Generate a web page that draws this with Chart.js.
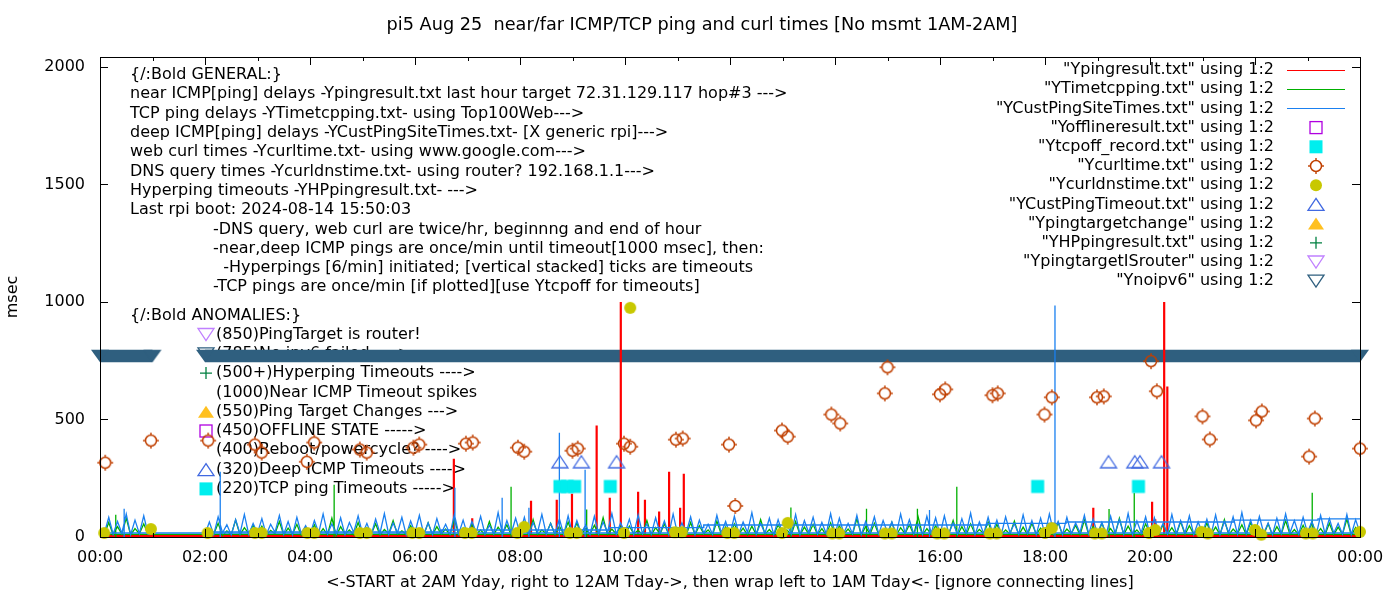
<!DOCTYPE html>
<html>
<head>
<meta charset="utf-8">
<title>pi5 Aug 25 near/far ICMP/TCP ping and curl times</title>
<script src="https://cdn.jsdelivr.net/npm/chart.js@4.4.1/dist/chart.umd.min.js"></script>
<style>
  html, body { margin: 0; padding: 0; background: #fff; }
  #wrap { width: 1400px; height: 600px; }
</style>
</head>
<body>
<div id="wrap"><canvas id="myChart" width="1400" height="600"></canvas></div>
<script>
/* -------------------------------------------------------------------------- */
/*                                    DATA                                    */
/* -------------------------------------------------------------------------- */

const chartTitle = 'pi5 Aug 25  near/far ICMP/TCP ping and curl times [No msmt 1AM-2AM]'
const xTitle = '<-START at 2AM Yday, right to 12AM Tday->, then wrap left to 1AM Tday<- [ignore connecting lines]'
const yTitle = 'msec'

const xTickHours = [0, 2, 4, 6, 8, 10, 12, 14, 16, 18, 20, 22, 24]
const xTickLabels = ['00:00', '02:00', '04:00', '06:00', '08:00', '10:00', '12:00', '14:00', '16:00', '18:00', '20:00', '22:00', '00:00']
const xMinorHours = [1, 3, 5, 7, 9, 11, 13, 15, 17, 19, 21, 23]
const yTickValues = [0, 500, 1000, 1500, 2000]

// 5 minute samples in file order: 02:00 ... 24:00, then wrap to 00:05 ... 01:00
const sampleStartHour = 2
const sampleStepMin = 5

const pingresult = [
  5,4,6,5,3,5,6,4,5,5,4,6,   // 02
  4,5,6,5,4,3,5,6,4,5,5,4,   // 03
  5,6,4,5,5,4,6,5,3,5,4,5,   // 04
  4,5,5,6,4,5,3,5,6,4,5,5,   // 05
  5,4,6,5,4,5,5,6,4,5,4,5,   // 06
  6,5,4,5,6,4,5,5,4,6,5,4,   // 07
  5,4,5,6,5,4,6,5,4,5,5,6,   // 08
  4,6,5,5,4,6,5,4,6,5,5,4,   // 09
  5,5,4,6,5,4,5,6,5,4,5,5,   // 10
  6,4,5,5,4,6,5,5,4,5,6,4,   // 11
  5,5,6,4,5,5,4,6,5,4,5,5,   // 12
  4,6,5,5,4,5,6,4,5,5,4,6,   // 13
  5,4,5,6,5,4,5,5,6,4,5,5,   // 14
  6,5,4,5,5,6,4,5,5,4,6,5,   // 15
  4,5,6,5,4,5,5,6,4,5,5,4,   // 16
  5,6,4,5,5,4,6,5,5,4,5,6,   // 17
  5,4,5,6,4,5,5,4,6,5,4,5,   // 18
  6,5,5,4,6,5,4,5,5,6,4,5,   // 19
  5,4,6,5,5,4,5,6,4,5,5,4,   // 20
  4,5,5,6,4,5,6,5,4,5,6,5,   // 21
  5,6,4,5,5,4,5,6,5,4,5,5,   // 22
  6,4,5,5,6,5,4,5,5,6,4,5,   // 23
  5,                         // 24:00
  5,5,6,5,4,5,6,5,4,5,5,4    // 00:05 .. 01:00
]

const timetcpping = [
  8,34,12,58,6,26,10,72,9,40,14,50,
  10,46,8,28,14,66,9,38,12,54,7,30,
  12,52,8,36,10,80,6,44,12,30,9,62,
  9,40,12,56,8,32,14,70,10,26,12,48,
  14,28,8,60,10,44,12,34,9,76,10,38,
  8,54,12,30,9,66,10,42,14,52,8,36,
  12,38,9,74,10,30,14,58,8,46,12,64,
  10,60,8,36,12,50,9,82,10,34,12,44,
  9,46,14,28,10,70,8,40,12,56,10,32,
  12,34,9,62,10,48,14,30,8,68,12,42,
  10,56,12,38,8,46,10,74,12,32,9,52,
  14,30,10,66,9,42,12,54,10,36,8,60,
  8,48,12,34,10,78,9,44,12,58,10,30,
  12,62,8,40,14,52,10,86,9,36,12,48,
  10,36,12,70,8,44,10,56,12,32,14,64,
  9,54,10,30,12,68,8,42,10,58,12,38,
  12,40,9,62,10,34,14,50,8,72,10,44,
  10,58,12,36,9,80,10,46,12,30,8,56,
  14,32,10,54,12,40,9,66,10,48,12,36,
  8,60,12,42,10,74,9,34,14,52,10,62,
  12,38,10,56,8,44,12,70,10,32,9,50,
  10,64,12,36,9,58,10,42,12,76,8,40,
  11,
  11,62,10,44,12,80,9,36,14,56,10,12
]

const custPingSiteTimes = [
  12,64,10,86,18,52,9,74,14,96,11,58,
  16,78,10,54,20,92,12,66,9,84,15,48,
  10,70,18,98,12,56,14,82,10,62,20,90,
  14,58,10,76,16,100,11,60,18,84,9,68,
  18,92,12,60,10,78,16,54,12,96,14,72,
  10,66,20,88,12,50,14,104,10,70,16,80,
  15,84,10,62,18,96,12,58,14,78,10,90,
  12,70,16,52,10,88,14,64,20,100,12,60,
  18,76,10,94,14,56,12,82,16,68,10,98,
  14,60,18,86,10,72,16,54,12,92,18,66,
  10,88,14,64,20,104,12,58,16,80,10,74,
  16,56,12,96,10,70,18,84,12,62,14,100,
  12,80,16,58,14,92,10,66,20,86,12,70,
  18,64,10,98,16,74,12,56,10,88,16,82,
  10,90,14,60,12,78,18,102,10,64,14,84,
  16,72,10,86,18,56,12,94,16,70,10,80,
  12,98,16,66,10,84,14,60,18,92,12,76,
  14,62,10,88,16,74,12,100,10,68,18,86,
  10,82,18,58,12,96,14,70,16,90,10,64,
  16,76,12,94,10,66,18,86,12,104,14,72,
  12,88,16,60,10,80,14,98,18,70,12,84,
  18,66,10,92,14,78,16,58,12,96,10,74,
  17,
  17,84,12,66,16,98,10,72,14,90,12,17
]

// single-minute spikes [hour, msec]
const pingresultSpikes = [[6.74, 333], [7.09, 80], [8.21, 154], [8.70, 158], [8.99, 184], [9.46, 474],
  [9.71, 167], [9.92, 1000], [10.25, 192], [10.38, 158], [10.65, 108], [10.84, 278], [11.05, 124],
  [11.12, 269], [18.92, 124], [20.04, 150], [20.10, 76], [20.27, 1000], [20.33, 640]]
const timetcppingSpikes = [[0.30, 95], [4.46, 222], [7.83, 214], [9.27, 117], [13.16, 125], [14.60, 120],
  [15.57, 120], [16.32, 214], [19.22, 119], [19.70, 188], [23.09, 188]]
const custPingSpikes = [[0.46, 120], [2.29, 278], [6.76, 209], [7.66, 167], [8.17, 124], [8.75, 444],
  [9.24, 286], [15.80, 115], [18.19, 985]]

// deep ping level steps [start hour, msec]
const custPingSteps = [[2, 22], [6.5, 30], [9.7, 40], [11.5, 51], [16.9, 58], [18.4, 64], [21.6, 72], [23.2, 77], [24, 77]]

const curlTimes = [[0.1, 316], [0.97, 410], [2.06, 410], [2.95, 393], [3.08, 359], [3.94, 320], [4.08, 402],
  [4.95, 372], [5.08, 359], [5.97, 380], [6.08, 393], [6.97, 397], [7.1, 402], [7.96, 380], [8.08, 363],
  [9.0, 367], [9.1, 376], [9.98, 397], [10.1, 384], [10.97, 414], [11.1, 419], [11.98, 393], [12.1, 132],
  [12.99, 453], [13.1, 427], [13.93, 521], [14.1, 483], [14.95, 611], [15.0, 722], [16.0, 607], [16.1, 628],
  [17.0, 603], [17.1, 611], [17.99, 521], [18.13, 594], [18.99, 594], [19.12, 598], [20.02, 748], [20.13, 620],
  [21.0, 513], [21.14, 415], [22.02, 496], [22.13, 534], [23.03, 342], [23.14, 504], [24.0, 376]]

const curlDnsTimes = [[0.08, 17], [0.97, 34], [2.05, 17], [2.95, 17], [3.08, 17], [3.95, 17], [4.08, 17],
  [4.95, 17], [5.08, 17], [5.95, 17], [6.08, 17], [6.95, 17], [7.08, 17], [7.95, 17], [8.08, 43], [8.95, 17],
  [9.08, 17], [9.98, 17], [10.1, 975], [10.95, 20], [11.08, 20], [11.95, 17], [12.08, 17], [12.99, 17],
  [13.1, 60], [13.95, 15], [14.08, 15], [14.95, 15], [15.08, 15], [15.95, 15], [16.08, 15], [16.95, 15],
  [17.08, 15], [18.0, 17], [18.13, 38], [18.95, 15], [19.08, 15], [19.98, 17], [20.1, 30], [20.98, 22],
  [21.1, 15], [22.0, 30], [22.12, 10], [22.97, 15], [23.1, 15], [24.0, 22]]

const tcpoffRecord = [[8.76, 215], [8.9, 215], [9.04, 215], [9.72, 215], [17.86, 215], [19.78, 215]]
const custPingTimeout = [[8.76, 320], [9.17, 320], [9.84, 320], [19.21, 320], [19.71, 320], [19.81, 320], [20.22, 320]]
const offlineResult = []
const pingTargetChange = []
const hpPingResult = []
const pingTargetIsRouter = []
const noipv6Spans = [[0, 1], [2, 24]]
const noipv6Level = 770

const generalLines = [
  '{/:Bold GENERAL:}',
  'near ICMP[ping] delays -Ypingresult.txt last hour target 72.31.129.117 hop#3 --->',
  'TCP ping delays -YTimetcpping.txt- using Top100Web--->',
  'deep ICMP[ping] delays -YCustPingSiteTimes.txt- [X generic rpi]--->',
  'web curl times -Ycurltime.txt- using www.google.com--->',
  'DNS query times -Ycurldnstime.txt- using router? 192.168.1.1--->',
  'Hyperping timeouts -YHPpingresult.txt- --->',
  'Last rpi boot: 2024-08-14 15:50:03'
]
const noteLines = [
  '-DNS query, web curl are twice/hr, beginnng and end of hour',
  '-near,deep ICMP pings are once/min until timeout[1000 msec], then:',
  '  -Hyperpings [6/min] initiated; [vertical stacked] ticks are timeouts',
  '-TCP pings are once/min [if plotted][use Ytcpoff for timeouts]'
]
const anomalyLines = [
  ['(850)PingTarget is router!', 'openTriDown', '#c080ff'],
  ['(785)No ipv6 failed ---->', 'openTriDown', '#2f5f7f'],
  ['(500+)Hyperping Timeouts ---->', 'plus', '#008040'],
  ['(1000)Near ICMP Timeout spikes', null, null],
  ['(550)Ping Target Changes --->', 'filledTriUp', '#ffc020'],
  ['(450)OFFLINE STATE ----->', 'openSquare', '#b000e0'],
  ['(400)Reboot/powercycle? ---->', null, null],
  ['(320)Deep ICMP Timeouts ---->', 'openTriUp', '#4169e1'],
  ['(220)TCP ping Timeouts ----->', 'filledSquare', '#00eeee']
]

/* -------------------------------------------------------------------------- */
/*                                  SYMBOLS                                   */
/* -------------------------------------------------------------------------- */

const FONT = '16px "DejaVu Sans"'
const TITLE_FONT = '17.7px "DejaVu Sans"'

function drawSymbol(ctx, kind, cx, cy, color) {
  ctx.save()
  ctx.strokeStyle = color
  ctx.fillStyle = color
  ctx.lineWidth = 1.3
  ctx.beginPath()
  if (kind == 'openSquare') {
    ctx.strokeRect(cx - 6, cy - 6, 12, 12)
  } else if (kind == 'filledSquare') {
    ctx.fillRect(cx - 6.5, cy - 6.5, 13, 13)
  } else if (kind == 'openCircle') {
    ctx.lineWidth = 1.5
    ctx.arc(cx, cy, 5.5, 0, Math.PI * 2)
    ctx.stroke()
    ctx.fillRect(cx - 0.7, cy - 8, 1.4, 2)
    ctx.fillRect(cx - 0.7, cy + 6, 1.4, 2)
    ctx.fillRect(cx - 8, cy - 0.7, 2, 1.4)
    ctx.fillRect(cx + 6, cy - 0.7, 2, 1.4)
  } else if (kind == 'filledCircle') {
    ctx.arc(cx, cy, 6, 0, Math.PI * 2)
    ctx.fill()
  } else if (kind == 'openTriUp' || kind == 'filledTriUp') {
    ctx.moveTo(cx, cy - 6)
    ctx.lineTo(cx + 8, cy + 6)
    ctx.lineTo(cx - 8, cy + 6)
    ctx.closePath()
    kind == 'openTriUp' ? ctx.stroke() : ctx.fill()
  } else if (kind == 'openTriDown') {
    ctx.moveTo(cx - 8, cy - 6)
    ctx.lineTo(cx + 8, cy - 6)
    ctx.lineTo(cx, cy + 6)
    ctx.closePath()
    ctx.stroke()
  } else if (kind == 'bandEnd') {
    ctx.moveTo(cx - 9, cy - 6.25)
    ctx.lineTo(cx + 9, cy - 6.25)
    ctx.lineTo(cx, cy + 6.25)
    ctx.closePath()
    ctx.fill()
  } else if (kind == 'plus') {
    ctx.moveTo(cx - 6, cy); ctx.lineTo(cx + 6, cy)
    ctx.moveTo(cx, cy - 6); ctx.lineTo(cx, cy + 6)
    ctx.stroke()
  }
  ctx.restore()
}

function symbolCanvas(kind, color) {
  let c = document.createElement('canvas')
  c.width = 20
  c.height = 20
  drawSymbol(c.getContext('2d'), kind, 10, 10, color)
  return c
}

const legendRows = [
  ['"Ypingresult.txt" using 1:2', 'line', '#ff0000'],
  ['"YTimetcpping.txt" using 1:2', 'line', '#00b000'],
  ['"YCustPingSiteTimes.txt" using 1:2', 'line', '#1a80f0'],
  ['"Yofflineresult.txt" using 1:2', 'openSquare', '#b000e0'],
  ['"Ytcpoff_record.txt" using 1:2', 'filledSquare', '#00eeee'],
  ['"Ycurltime.txt" using 1:2', 'openCircle', '#c04000'],
  ['"Ycurldnstime.txt" using 1:2', 'filledCircle', '#c8c800'],
  ['"YCustPingTimeout.txt" using 1:2', 'openTriUp', '#4169e1'],
  ['"Ypingtargetchange" using 1:2', 'filledTriUp', '#ffc020'],
  ['"YHPpingresult.txt" using 1:2', 'plus', '#008040'],
  ['"YpingtargetISrouter" using 1:2', 'openTriDown', '#c080ff'],
  ['"Ynoipv6" using 1:2', 'openTriDown', '#2f5f7f']
]

/* -------------------------------------------------------------------------- */
/*                                 BUILD DATA                                 */
/* -------------------------------------------------------------------------- */

function sampleHour(i) {
  let h = sampleStartHour + i * sampleStepMin / 60
  return h > 24 ? h - 24 : h
}

function seriesPoints(values, spikes) {
  let pts = values.map((v, i) => ({ x: sampleHour(i), y: v }))
  spikes.forEach(s => {
    pts.push({ x: s[0], y: null })
    pts.push({ x: s[0], y: 0 })
    pts.push({ x: s[0], y: s[1] })
  })
  return pts
}

const pairs = list => list.map(p => ({ x: p[0], y: p[1] }))

let bandPoints = []
noipv6Spans.forEach((s, i) => {
  if (i > 0) bandPoints.push({ x: s[0], y: null })
  bandPoints.push({ x: s[0], y: noipv6Level })
  bandPoints.push({ x: s[1], y: noipv6Level })
})

function lineSet(label, data, color, order, extra) {
  return Object.assign({
    label: label, data: data, showLine: true, borderColor: color, backgroundColor: color,
    borderWidth: 1, pointRadius: 0, spanGaps: false, order: order, clip: false
  }, extra || {})
}

function pointSet(label, data, kind, color, order) {
  return {
    label: label, data: data, showLine: false, pointStyle: symbolCanvas(kind, color),
    pointRadius: 6, borderColor: color, backgroundColor: color, order: order, clip: false
  }
}

/* -------------------------------------------------------------------------- */
/*                                   PLUGIN                                   */
/* -------------------------------------------------------------------------- */

const gnuplotDecor = {
  id: 'gnuplotDecor',
  beforeDatasetsDraw(chart) {
    let ctx = chart.ctx
    ctx.save()
    ctx.font = FONT
    ctx.fillStyle = '#000'
    ctx.textBaseline = 'middle'
    ctx.textAlign = 'left'
    generalLines.forEach((t, i) => ctx.fillText(t, 130, 75 + i * 19.3))
    noteLines.forEach((t, i) => ctx.fillText(t, 213, 75 + (i + 8) * 19.3))
    ctx.fillText('{/:Bold ANOMALIES:}', 130, 316)
    anomalyLines.forEach((a, i) => {
      let y = 334.5 + i * 19.3
      ctx.fillText(a[0], 216, y)
      if (a[1]) drawSymbol(ctx, a[1], 206, y, a[2])
    })
    ctx.restore()
  },
  afterDatasetsDraw(chart) {
    let ctx = chart.ctx
    let a = chart.chartArea
    let xs = chart.scales.x
    let ys = chart.scales.y
    ctx.save()
    ctx.strokeStyle = '#000'
    ctx.lineWidth = 1
    ctx.beginPath()
    xTickHours.forEach(h => {
      let px = Math.round(xs.getPixelForValue(h)) + 0.5
      ctx.moveTo(px, a.bottom); ctx.lineTo(px, a.bottom - 8)
      ctx.moveTo(px, a.top); ctx.lineTo(px, a.top + 8)
    })
    xMinorHours.forEach(h => {
      let px = Math.round(xs.getPixelForValue(h)) + 0.5
      ctx.moveTo(px, a.bottom); ctx.lineTo(px, a.bottom - 4)
      ctx.moveTo(px, a.top); ctx.lineTo(px, a.top + 4)
    })
    yTickValues.forEach(v => {
      let py = Math.round(ys.getPixelForValue(v)) + 0.5
      ctx.moveTo(a.left, py); ctx.lineTo(a.left + 8, py)
      ctx.moveTo(a.right, py); ctx.lineTo(a.right - 8, py)
    })
    ctx.stroke()
    ctx.strokeRect(Math.round(a.left) + 0.5, Math.round(a.top) + 0.5,
      Math.round(a.right - a.left), Math.round(a.bottom - a.top))

    // key, gnuplot style: text right, sample left of it
    ctx.font = FONT
    ctx.fillStyle = '#000'
    ctx.textBaseline = 'middle'
    ctx.textAlign = 'right'
    legendRows.forEach((r, i) => {
      let y = 70 + i * 19.2
      ctx.fillText(r[0], 1274, y)
      if (r[1] == 'line') {
        ctx.strokeStyle = r[2]
        ctx.beginPath()
        ctx.moveTo(1287, Math.round(y) + 0.5)
        ctx.lineTo(1345, Math.round(y) + 0.5)
        ctx.stroke()
      } else {
        drawSymbol(ctx, r[1], 1316, y, r[2])
      }
    })

    ctx.textAlign = 'center'
    ctx.fillText(xTitle, (a.left + a.right) / 2, 583)
    ctx.font = TITLE_FONT
    ctx.fillText(chartTitle, 702, 25)
    ctx.font = FONT
    ctx.translate(13, (a.top + a.bottom) / 2)
    ctx.rotate(-Math.PI / 2)
    ctx.fillText(yTitle, 0, 0)
    ctx.restore()
  }
}

/* -------------------------------------------------------------------------- */
/*                                  CHART JS                                  */
/* -------------------------------------------------------------------------- */

let myChart = document.querySelector('#myChart')

new Chart(myChart, {
  type: 'scatter',
  data: {
    datasets: [
      lineSet('Ynoipv6', bandPoints, '#2f5f7f', 20, {
        borderWidth: 12.5, pointRadius: 6, pointStyle: symbolCanvas('bandEnd', '#2f5f7f')
      }),
      lineSet('Ypingresult.txt', seriesPoints(pingresult, pingresultSpikes), '#ff0000', 15, { borderWidth: 2.2 }),
      lineSet('YTimetcpping.txt', seriesPoints(timetcpping, timetcppingSpikes), '#00b000', 14, { borderWidth: 1.3 }),
      lineSet('YCustPingSiteTimes.txt', pairs(custPingSteps), '#1a80f0', 13, { stepped: true, borderWidth: 1.4 }),
      lineSet('YCustPingSiteTimes.txt', seriesPoints(custPingSiteTimes, custPingSpikes), '#1a80f0', 12, { borderWidth: 1.3 }),
      pointSet('Yofflineresult.txt', pairs(offlineResult), 'openSquare', '#b000e0', 6),
      pointSet('Ytcpoff_record.txt', pairs(tcpoffRecord), 'filledSquare', '#00eeee', 5),
      pointSet('Ycurltime.txt', pairs(curlTimes), 'openCircle', '#c04000', 4),
      pointSet('Ycurldnstime.txt', pairs(curlDnsTimes), 'filledCircle', '#c8c800', 3),
      pointSet('YCustPingTimeout.txt', pairs(custPingTimeout), 'openTriUp', '#4169e1', 2),
      pointSet('Ypingtargetchange', pairs(pingTargetChange), 'filledTriUp', '#ffc020', 1),
      pointSet('YHPpingresult.txt', pairs(hpPingResult), 'plus', '#008040', 1),
      pointSet('YpingtargetISrouter', pairs(pingTargetIsRouter), 'openTriDown', '#c080ff', 1)
    ]
  },
  options: {
    responsive: false,
    animation: false,
    events: [],
    layout: { padding: { top: 57, right: 40, left: 0, bottom: 0 } },
    plugins: { legend: { display: false }, tooltip: { enabled: false }, title: { display: false } },
    scales: {
      x: {
        type: 'linear', min: 0, max: 24,
        afterBuildTicks: s => { s.ticks = xTickHours.map(v => ({ value: v })) },
        afterFit: s => { s.height = 63 },
        ticks: {
          autoSkip: false, maxRotation: 0, color: '#000', padding: 11,
          font: { family: 'DejaVu Sans', size: 16 },
          callback: v => xTickLabels[xTickHours.indexOf(v)]
        },
        grid: { display: false, drawTicks: false },
        border: { display: false }
      },
      y: {
        type: 'linear', min: 0, max: 2042,
        afterBuildTicks: s => { s.ticks = yTickValues.map(v => ({ value: v })) },
        afterFit: s => { s.width = 100 },
        ticks: {
          color: '#000', padding: 15,
          font: { family: 'DejaVu Sans', size: 16 },
          callback: v => String(v)
        },
        grid: { display: false, drawTicks: false },
        border: { display: false }
      }
    }
  },
  plugins: [gnuplotDecor]
})
</script>
</body>
</html>
